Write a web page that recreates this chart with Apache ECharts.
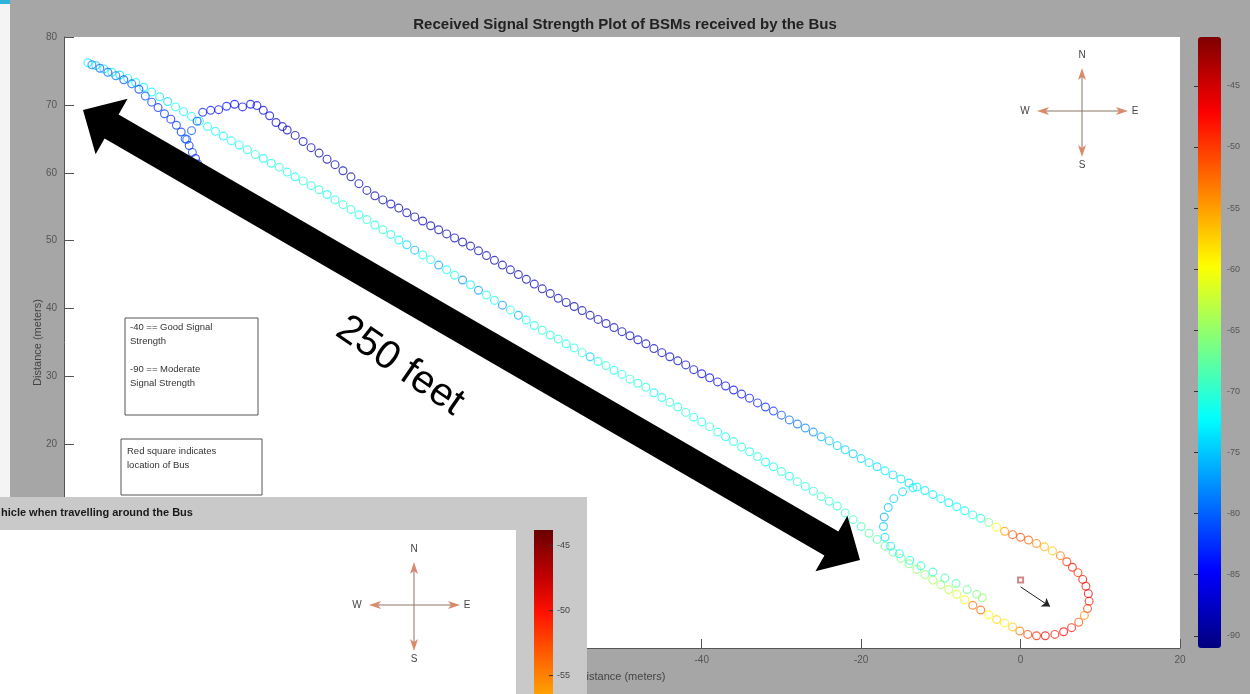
<!DOCTYPE html>
<html><head><meta charset="utf-8">
<script src="https://cdn.jsdelivr.net/npm/echarts@6/dist/echarts.min.js"></script>
<style>html,body{margin:0;padding:0;background:#a6a6a6}#c{width:1250px;height:694px}</style>
</head><body><div id="c"></div>
<script>
// ---------- text ----------
const chartTitle = 'Received Signal Strength Plot of BSMs received by the Bus';
const axisName = 'Distance (meters)';
const insetTitle = 'hicle when travelling around the Bus';
const noteSignal = ['-40 == Good Signal', 'Strength', '', '-90 == Moderate', 'Signal Strength'];
const noteBus = ['Red square indicates', 'location of Bus'];
const distanceLabel = '250 feet';
const compassLetters = ['N', 'S', 'W', 'E'];

// ---------- axes / colour scale ----------
const xRange = [-120, 20, 20];
const yRange = [-10, 80, 10];
const rssiRange = [-91, -41];
const colorbarTicks = [-90, -85, -80, -75, -70, -65, -60, -55, -50, -45];
const insetTicks = [-45, -50, -55];
const jet = ['#00007F', '#0000FF', '#007FFF', '#00FFFF', '#7FFF7F', '#FFFF00', '#FF7F00', '#FF0000', '#7F0000'];

// ---------- data: [x (m), y (m), RSSI (dBm)] ----------
const lowerTrack = [
[-117,76.2,-73],[-116,75.8,-74],[-115,75.3,-73],[-114,74.8,-72],[-113,74.4,-74],[-112,73.9,-73],[-111,73.3,-72],
[-110,72.6,-73],[-109,71.9,-72],[-108,71.2,-73],[-107,70.5,-74],[-106,69.7,-72],[-105,69.0,-73],[-104,68.3,-72],[-103,67.6,-73],[-102,66.8,-71],[-101,66.1,-72],[-100,65.4,-73],
[-99,64.7,-71],[-98,64.1,-72],[-97,63.4,-71],[-96,62.7,-70],[-95,62.1,-72],[-94,61.4,-71],[-93,60.8,-70],[-92,60.1,-71],[-91,59.4,-72],[-90,58.8,-70],
[-89,58.1,-71],[-88,57.5,-70],[-87,56.8,-72],[-86,56.0,-71],[-85,55.3,-70],[-84,54.6,-71],[-83,53.8,-72],[-82,53.1,-70],[-81,52.3,-71],[-80,51.6,-70],
[-79,50.9,-71],[-78,50.1,-72],[-77,49.4,-74],[-76,48.6,-76],[-75,47.9,-72],[-74,47.2,-71],[-73,46.4,-77],[-72,45.7,-72],[-71,44.9,-71],[-70,44.2,-78],
[-69,43.5,-72],[-68,42.7,-77],[-67,42.0,-71],[-66,41.2,-72],[-65,40.5,-78],[-64,39.8,-71],[-63,39.0,-76],[-62,38.3,-72],[-61,37.5,-71],[-60,36.8,-70],
[-59,36.1,-71],[-58,35.5,-70],[-57,34.8,-72],[-56,34.2,-71],[-55,33.5,-70],[-54,32.9,-75],[-53,32.2,-71],[-52,31.6,-70],[-51,30.9,-72],[-50,30.3,-71],
[-49,29.6,-70],[-48,29.0,-71],[-47,28.4,-70],[-46,27.6,-72],[-45,26.9,-71],[-44,26.2,-70],[-43,25.5,-71],[-42,24.7,-70],[-41,24.0,-72],[-40,23.3,-71],
[-39,22.6,-70],[-38,21.8,-71],[-37,21.1,-72],[-36,20.4,-71],[-35,19.6,-70],[-34,18.9,-71],[-33,18.2,-70],[-32,17.4,-72],[-31,16.7,-71],[-30,16.0,-70],
[-29,15.3,-71],[-28,14.5,-70],[-27,13.8,-71],[-26,13.1,-70],[-25,12.3,-69],[-24,11.6,-70],[-23,10.9,-70]
];
const upperTrack = [
[-92,66.3,-88],[-91,65.5,-89],[-90,64.6,-88],[-89,63.7,-89],[-88,62.9,-89],[-87,62.0,-88],[-86,61.2,-89],[-85,60.3,-89],[-84,59.4,-89],[-83,58.4,-88],
[-82,57.4,-89],[-81,56.6,-89],[-80,56.0,-89],[-79,55.4,-88],[-78,54.8,-89],[-77,54.1,-89],[-76,53.5,-89],[-75,52.9,-88],[-74,52.2,-89],[-73,51.6,-89],
[-72,51.0,-89],[-71,50.4,-88],[-70,49.8,-89],[-69,49.2,-89],[-68,48.5,-89],[-67,47.8,-88],[-66,47.1,-89],[-65,46.4,-89],[-64,45.7,-88],[-63,45.0,-89],
[-62,44.3,-89],[-61,43.6,-88],[-60,42.9,-89],[-59,42.2,-89],[-58,41.5,-88],[-57,40.9,-89],[-56,40.3,-89],[-55,39.7,-88],[-54,39.0,-89],[-53,38.4,-88],
[-52,37.8,-89],[-51,37.2,-88],[-50,36.6,-88],[-49,36.0,-88],[-48,35.4,-87],[-47,34.8,-88],[-46,34.1,-88],[-45,33.5,-87],[-44,32.9,-87],[-43,32.3,-88],
[-42,31.7,-87],[-41,31.0,-87],[-40,30.4,-86],[-39,29.8,-86],[-38,29.2,-86],[-37,28.6,-85],[-36,28.0,-85],[-35,27.4,-85],[-34,26.8,-84],[-33,26.1,-83],
[-32,25.5,-83],[-31,24.9,-82],[-30,24.3,-81],[-29,23.6,-80],[-28,23.0,-79],[-27,22.4,-78],[-26,21.8,-78],[-25,21.1,-76],[-24,20.5,-75],[-23,19.8,-75],
[-22,19.2,-74],[-21,18.6,-75],[-20,17.9,-74],[-19,17.3,-73],[-18,16.7,-74],[-17,16.1,-73],[-16,15.5,-74],[-15,14.9,-73],[-14,14.3,-74],[-13,13.7,-73]
];
const loopTrack = [
[-12,13.2,-73],[-11,12.6,-73],[-10,12.0,-72],[-9,11.4,-73],[-8,10.8,-72],[-7,10.2,-72],[-6,9.6,-71],[-5,9.1,-71],[-4,8.5,-66],[-3,7.8,-60],
[-2,7.2,-55],[-1,6.7,-51],[0,6.3,-51],[1,5.9,-52],[2,5.4,-54],[3,4.9,-56],[4,4.3,-57],[5,3.6,-53],[5.8,2.7,-50],[6.5,1.9,-48],
[7.2,1.1,-50],[7.8,0.1,-47],[8.2,-0.9,-48],[8.5,-2.0,-46],[8.6,-3.1,-48],[8.4,-4.2,-50],[8.0,-5.2,-54],[7.3,-6.2,-51],[6.4,-7.0,-48],[5.4,-7.6,-47],
[4.3,-8.0,-48],[3.1,-8.2,-47],[2.0,-8.2,-49],[0.9,-8.0,-50],[-0.1,-7.5,-53],[-1.0,-6.9,-57],[-2.0,-6.3,-59],[-3.0,-5.8,-58],[-4.0,-5.1,-60],[-5.0,-4.4,-52]
];
const returnTrack = [
[-22,9.9,-70],[-21,8.9,-69],[-20,7.9,-69],[-19,6.9,-68],[-18,6.0,-68],[-17,5.0,-67],[-16,4.1,-67],[-15,3.2,-66],[-14,2.4,-66],
[-13,1.6,-65],[-12,0.8,-65],[-11,0.0,-64],[-10,-0.7,-64],[-9,-1.4,-63],[-8,-2.1,-62],[-7,-2.9,-60],[-6,-3.7,-53]
];
const innerTrack = [
[-13.5,13.6,-73],[-14.8,13.0,-74],[-15.9,12.0,-74],[-16.6,10.7,-75],[-17.1,9.3,-76],[-17.2,7.9,-75],[-17.0,6.3,-74],[-16.3,5.0,-73],
[-15.2,3.9,-72],[-13.9,2.9,-71],[-12.5,2.1,-71],[-11.0,1.2,-70],[-9.5,0.3,-69],[-8.1,-0.5,-68],[-6.7,-1.4,-67],[-5.5,-2.1,-66],[-4.8,-2.6,-65]
];
const startBranch = [
[-116.5,75.9,-79],[-115.5,75.4,-80],[-114.5,74.8,-80],[-113.5,74.3,-79],[-112.5,73.7,-81],[-111.5,73.1,-80],[-110.6,72.3,-82],[-109.8,71.3,-81],
[-109.0,70.4,-82],[-108.2,69.6,-83],[-107.4,68.7,-82],[-106.6,67.9,-83],[-105.9,67.0,-82],[-105.3,66.0,-82],[-104.8,65.0,-81],[-104.3,64.0,-83],
[-103.9,63.0,-82],[-103.5,62.1,-84],[-103.2,61.3,-83]
];
const bumpTrack = [
[-104.6,64.9,-80],[-104.0,66.2,-81],[-103.3,67.6,-82],[-102.6,68.9,-83],[-101.6,69.2,-84],[-100.6,69.3,-85],[-99.6,69.8,-84],[-98.6,70.1,-85],
[-97.6,69.7,-86],[-96.6,70.1,-86],[-95.8,69.9,-85],[-95.0,69.2,-87],[-94.2,68.4,-86],[-93.4,67.4,-87],[-92.6,66.8,-87]
];
const busPosition = [[0, 0]];
const busHeading = [[0.0, -1.0], [3.7, -3.9]];

// ---------- build ----------
const FONT = '"Liberation Sans", Arial, sans-serif';
const ring = 'path://M0,-10A10,10 0 1,1 0,10A10,10 0 1,1 0,-10Z M0,-7.4A7.4,7.4 0 1,0 0,7.4A7.4,7.4 0 1,0 0,-7.4Z';
function track(name, data) {
  return { name, type: 'scatter', xAxisIndex: 0, yAxisIndex: 0, symbol: ring, symbolSize: 9,
    data, itemStyle: { opacity: 0.72 }, emphasis: { disabled: true }, silent: true };
}
function compass(cx, cy) {
  const shaft = '#8d7468', head = '#d98a6c', lab = { fontSize: 10, fill: '#444', fontFamily: FONT, align: 'center', verticalAlign: 'middle' };
  return [
    { type: 'line', shape: { x1: cx, y1: cy - 38, x2: cx, y2: cy + 40 }, style: { stroke: shaft, lineWidth: 1 } },
    { type: 'line', shape: { x1: cx - 40, y1: cy, x2: cx + 41, y2: cy }, style: { stroke: shaft, lineWidth: 1 } },
    { type: 'polygon', shape: { points: [[cx, cy - 43], [cx - 4, cy - 31], [cx, cy - 34], [cx + 4, cy - 31]] }, style: { fill: head } },
    { type: 'polygon', shape: { points: [[cx, cy + 46], [cx - 4, cy + 34], [cx, cy + 37], [cx + 4, cy + 34]] }, style: { fill: head } },
    { type: 'polygon', shape: { points: [[cx - 45, cy], [cx - 33, cy - 4], [cx - 36, cy], [cx - 33, cy + 4]] }, style: { fill: head } },
    { type: 'polygon', shape: { points: [[cx + 46, cy], [cx + 34, cy - 4], [cx + 37, cy], [cx + 34, cy + 4]] }, style: { fill: head } },
    { type: 'text', x: cx, y: cy - 56, style: Object.assign({ text: compassLetters[0] }, lab) },
    { type: 'text', x: cx, y: cy + 54, style: Object.assign({ text: compassLetters[1] }, lab) },
    { type: 'text', x: cx - 57, y: cy, style: Object.assign({ text: compassLetters[2] }, lab) },
    { type: 'text', x: cx + 53, y: cy, style: Object.assign({ text: compassLetters[3] }, lab) }
  ];
}
function withZ(list, z) { return list.map(e => Object.assign({ z: z }, e)); }
const arrowPts = [[83,110],[95.6,154.2],[104.6,138.6],[824.4,555.6],[815.4,571.2],[860,560],[847.4,515.8],[838.4,531.4],[118.6,114.4],[127.6,98.8]];

const insetTop = 530, insetPxPerUnit = 13, insetTopValue = -43.8;
let insetElems = [
  { type: 'rect', shape: { x: 0, y: 497, width: 587, height: 197 }, style: { fill: '#c9c9c9' } },
  { type: 'text', x: 1, y: 513, style: { text: insetTitle, fontSize: 11, fontWeight: 'bold', fill: '#1a1a1a', fontFamily: FONT, verticalAlign: 'middle' } },
  { type: 'rect', shape: { x: 0, y: 530, width: 516, height: 164 }, style: { fill: '#ffffff' } },
  { type: 'rect', shape: { x: 534, y: 530, width: 19, height: 164 }, style: { fill: { type: 'linear', x: 0, y: 0, x2: 0, y2: 1, colorStops: [
    { offset: 0, color: '#6a0000' }, { offset: 0.28, color: '#c00000' }, { offset: 0.5, color: '#ff1000' }, { offset: 0.72, color: '#ff5200' }, { offset: 1, color: '#ffa000' }] } } }
].concat(compass(414, 605));
insetTicks.forEach(v => {
  const y = insetTop + (insetTopValue - v) * insetPxPerUnit;
  insetElems.push({ type: 'line', shape: { x1: 549, y1: y, x2: 553, y2: y }, style: { stroke: '#333', lineWidth: 1 } });
  insetElems.push({ type: 'text', x: 557, y: y, style: { text: String(v), fontSize: 9, fill: '#444', fontFamily: FONT, verticalAlign: 'middle' } });
});
insetElems = insetElems.map((e, i) => Object.assign({ z: 100 + i }, e));

const noteStyle = { fontSize: 9.5, fill: '#333', fontFamily: FONT, lineHeight: 14, verticalAlign: 'top' };
const graphics = [
  { type: 'rect', shape: { x: 0, y: 0, width: 10, height: 497 }, style: { fill: '#f4f4f4' }, z: 40 },
  { type: 'rect', shape: { x: 0, y: 0, width: 10, height: 4 }, style: { fill: '#2bb3da' }, z: 41 },
  { type: 'rect', shape: { x: 125, y: 318, width: 133, height: 97 }, style: { fill: '#fff', stroke: '#555', lineWidth: 1 }, z: 40 },
  { type: 'text', x: 130, y: 320, style: Object.assign({ text: noteSignal.join('\n') }, noteStyle), z: 41 },
  { type: 'rect', shape: { x: 121, y: 439, width: 141, height: 56 }, style: { fill: '#fff', stroke: '#555', lineWidth: 1 }, z: 40 },
  { type: 'text', x: 127, y: 444, style: Object.assign({ text: noteBus.join('\n') }, noteStyle), z: 41 },
  { type: 'polygon', shape: { points: arrowPts }, style: { fill: '#000' }, z: 50 },
  { type: 'text', x: 400, y: 366, rotation: -0.6, style: { text: distanceLabel, fontSize: 40, fill: '#000', fontFamily: FONT, align: 'center', verticalAlign: 'middle' }, z: 50 }
].concat(withZ(compass(1082, 111), 60)).concat(insetElems);

const chart = echarts.init(document.getElementById('c'));
chart.setOption({
  backgroundColor: '#a6a6a6',
  animation: false,
  title: { text: chartTitle, left: 'center', top: 12, textStyle: { fontSize: 15, fontWeight: 'bold', color: '#222', fontFamily: FONT } },
  grid: [
    { left: 64, top: 37, width: 1116, height: 611, show: true, backgroundColor: '#ffffff', borderWidth: 0 },
    { left: 1198, top: 37, width: 23, height: 611, show: false }
  ],
  xAxis: [
    { gridIndex: 0, type: 'value', min: xRange[0], max: xRange[1], interval: xRange[2], name: axisName, nameLocation: 'middle', nameGap: 23, nameMoveOverlap: false,
      nameTextStyle: { fontSize: 11, color: '#444', fontFamily: FONT },
      axisLine: { onZero: false, lineStyle: { color: '#555', width: 1 } }, axisTick: { inside: true, length: 9, lineStyle: { color: '#555' } },
      axisLabel: { color: '#555', fontSize: 10, margin: 7, fontFamily: FONT }, splitLine: { show: false } },
    { gridIndex: 1, type: 'value', min: 0, max: 1, show: false }
  ],
  yAxis: [
    { gridIndex: 0, type: 'value', min: yRange[0], max: yRange[1], interval: yRange[2], name: axisName, nameLocation: 'middle', nameGap: 21, nameMoveOverlap: false,
      nameTextStyle: { fontSize: 11, color: '#444', fontFamily: FONT },
      axisLine: { show: true, onZero: false, lineStyle: { color: '#555', width: 1 } }, axisTick: { show: true, inside: true, length: 10, lineStyle: { color: '#555' } },
      axisLabel: { color: '#555', fontSize: 10, margin: 7, fontFamily: FONT }, splitLine: { show: false } },
    { gridIndex: 1, type: 'value', min: rssiRange[0], max: rssiRange[1], position: 'right', z: 10,
      axisLine: { show: false }, splitLine: { show: false },
      axisTick: { show: true, inside: true, length: 4, lineStyle: { color: '#333' }, customValues: colorbarTicks },
      axisLabel: { color: '#555', fontSize: 9, margin: 6, fontFamily: FONT, customValues: colorbarTicks } }
  ],
  visualMap: {
    type: 'continuous', min: rssiRange[0], max: rssiRange[1], dimension: 2, seriesIndex: [0, 1, 2, 3, 4, 5, 6],
    inRange: { color: jet }, left: 1198, top: 37, itemWidth: 23, itemHeight: 611, padding: 0,
    calculable: false, hoverLink: false, text: null, textStyle: { color: 'transparent' }
  },
  series: [
    track('lower', lowerTrack),
    track('upper', upperTrack),
    track('loop', loopTrack),
    track('return', returnTrack),
    track('inner', innerTrack),
    track('branch', startBranch),
    track('bump', bumpTrack),
    { name: 'bus', type: 'scatter', symbol: 'emptyRect', symbolSize: 5, data: busPosition, itemStyle: { color: '#c46a6a', borderWidth: 1 }, silent: true, z: 5 },
    { name: 'heading', type: 'lines', coordinateSystem: 'cartesian2d', polyline: false, symbol: ['none', 'arrow'], symbolSize: 8,
      data: [{ coords: busHeading }], lineStyle: { color: '#222', width: 1, opacity: 1 }, silent: true, z: 5 }
  ],
  graphic: graphics
});
</script>
</body></html>
